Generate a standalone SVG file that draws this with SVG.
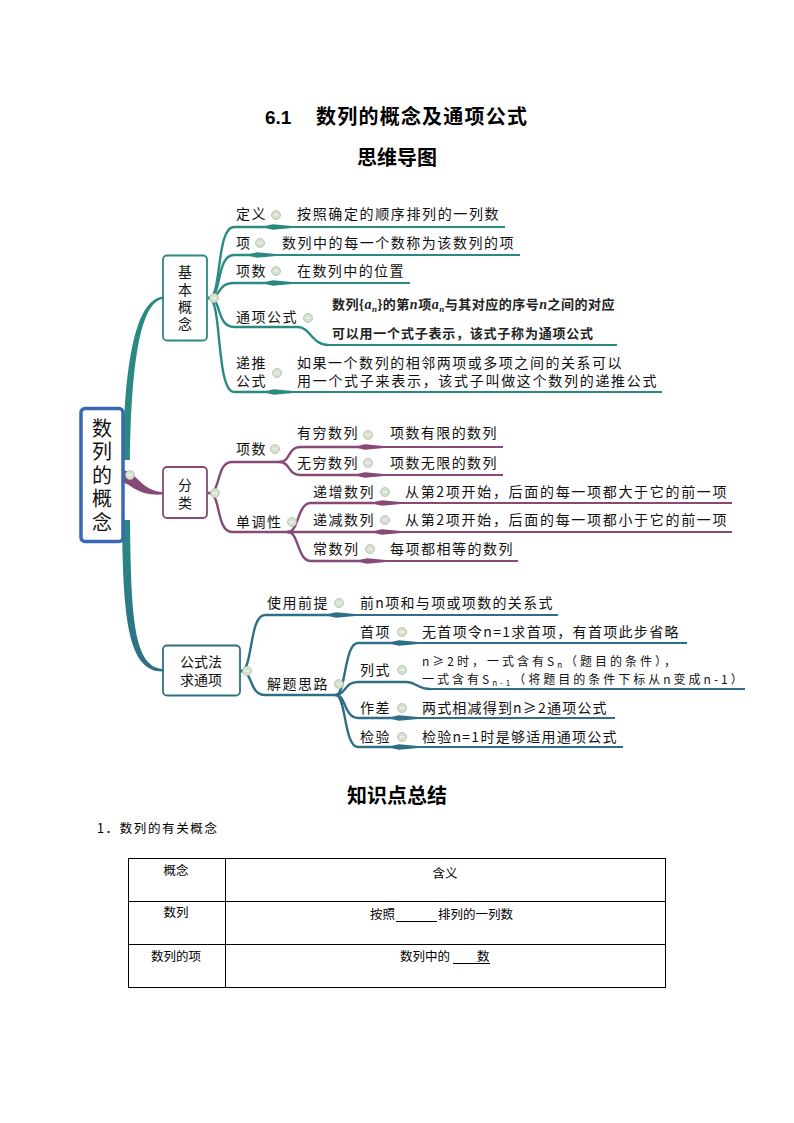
<svg xmlns="http://www.w3.org/2000/svg" xmlns:xlink="http://www.w3.org/1999/xlink" width="794" height="1123" viewBox="0 0 794 1123">
<style>
.h{font-family:"Noto Sans CJK SC","Noto Sans CJK JP",sans-serif;font-weight:bold;font-size:20px;fill:#000}
.t{font-family:"Noto Sans CJK SC","Noto Sans CJK JP",sans-serif;font-size:14px;fill:#111;letter-spacing:1.5px}
.t2{font-family:"Noto Sans CJK SC","Noto Sans CJK JP",sans-serif;font-size:12px;fill:#111;letter-spacing:3px}
.b{font-family:"Noto Sans CJK SC","Noto Sans CJK JP",sans-serif;font-size:13px;font-weight:bold;fill:#222}
.n{font-family:"Noto Sans CJK SC","Noto Sans CJK JP",sans-serif;font-size:14px;fill:#111;text-anchor:middle}
.v{font-family:"Noto Sans CJK SC","Noto Sans CJK JP",sans-serif;font-size:14px;fill:#111;writing-mode:vertical-rl}
.r{font-family:"Noto Sans CJK SC","Noto Sans CJK JP",sans-serif;font-size:20px;fill:#111;writing-mode:vertical-rl;letter-spacing:3.5px}
.s{font-family:"Noto Sans CJK SC","Noto Sans CJK JP",sans-serif;font-size:12.5px;fill:#000}
.T{stroke:#2a8a82;fill:none}
.P{stroke:#874a76;fill:none}
.B{stroke:#2e6f87;fill:none}
.k{stroke-width:2.4;stroke-linecap:round}
.l{stroke-width:1.8}
.wT{fill:#2a8a82}
.wP{fill:#874a76}
.wB{fill:#2e6f87}
.box{fill:#fff;stroke-width:1.8}
.tb{stroke:#000;stroke-width:1;fill:none}
</style>
<defs>
<g id="kn"><circle r="4.5" fill="#d6e0cf" stroke="#b3bdab" stroke-width="0.8"/><line x1="-2.3" x2="2.3" y1="0" y2="0" stroke="#f5f8f2" stroke-width="1.1"/></g>
<linearGradient id="gB" x1="0" y1="0" x2="0" y2="1"><stop offset="0" stop-color="#2a8a82"/><stop offset="1" stop-color="#2e6f87"/></linearGradient>
</defs>
<rect width="794" height="1123" fill="#fff"/>

<g id="title">
<text x="265" y="124" font-family="Liberation Sans" font-weight="bold" font-size="19" fill="#000">6.1</text>
<text x="316" y="124" class="h" textLength="211">数列的概念及通项公式</text>
<text x="397" y="165" class="h" text-anchor="middle">思维导图</text>
</g>

<g id="connectors">
<path d="M123 460 C124 390 130 300 163 296.5 L163 299 C136 302 131 390 130 460 Z" fill="#2a8a82"/>
<path d="M124 470 C138 474 142 491 163 492 L163 494.5 C138 496 134 486 124 483 Z" fill="#874a76"/>
<path d="M122 520 C123 620 128 672 163 671.5 L163 669 C134 667 131 620 130 520 Z" fill="url(#gB)"/>

<path class="T k" d="M209 298 C222 298 216 227 234 227 L266 227"/>
<polygon class="wT" points="266,225.8 273,224.2 292,226.1 292,227.9 273,229.8 266,228.2"/>
<line class="T l" x1="290" y1="227" x2="505" y2="227"/>
<path class="T k" d="M209 298 C222 298 216 255 234 255 L250 255"/>
<polygon class="wT" points="250,253.8 257,252.2 276,254.1 276,255.9 257,257.8 250,256.2"/>
<line class="T l" x1="274" y1="255" x2="520" y2="255"/>
<path class="T k" d="M209 298 C222 298 216 283 234 283 L266 283"/>
<polygon class="wT" points="266,281.8 273,280.2 292,282.1 292,283.9 273,285.8 266,284.2"/>
<line class="T l" x1="290" y1="283" x2="410" y2="283"/>
<path class="T k" d="M209 298 C222 298 216 327 234 327 L298 327 C310 327 312 345 328 345"/>
<line class="T l" x1="326" y1="345" x2="617" y2="345"/>
<path class="T k" d="M209 298 C222 298 216 392 234 392 L267 392"/>
<polygon class="wT" points="267,390.8 274,389.2 293,391.1 293,392.9 274,394.8 267,393.2"/>
<line class="T l" x1="291" y1="392" x2="662" y2="392"/>

<path class="P k" d="M209 493 C221 493 216 462 232 462 L282 462"/>
<path class="P k" d="M209 493 C221 493 216 532 232 532 L290 532"/>
<path class="P k" d="M280 462 C290 462 288 447 300 447 L358 447"/>
<polygon class="wP" points="358,445.8 365,444.2 384,446.1 384,447.9 365,449.8 358,448.2"/>
<line class="P l" x1="382" y1="447" x2="503" y2="447"/>
<path class="P k" d="M280 462 C290 462 288 475 300 475 L358 475"/>
<polygon class="wP" points="358,473.8 365,472.2 384,474.1 384,475.9 365,477.8 358,476.2"/>
<line class="P l" x1="382" y1="475" x2="503" y2="475"/>
<path class="P k" d="M288 532 C299 532 297 503 311 503 L375 503"/>
<polygon class="wP" points="375,501.8 382,500.2 401,502.1 401,503.9 382,505.8 375,504.2"/>
<line class="P l" x1="399" y1="503" x2="732" y2="503"/>
<path class="P k" d="M288 532 L375 532"/>
<polygon class="wP" points="375,530.8 382,529.2 401,531.1 401,532.9 382,534.8 375,533.2"/>
<line class="P l" x1="399" y1="532" x2="732" y2="532"/>
<path class="P k" d="M288 532 C299 532 297 561 311 561 L360 561"/>
<polygon class="wP" points="360,559.8 367,558.2 386,560.1 386,561.9 367,563.8 360,562.2"/>
<line class="P l" x1="384" y1="561" x2="518" y2="561"/>

<path class="B k" d="M241 671 C253 671 249 615 265 615 L329 615"/>
<polygon class="wB" points="329,613.8 336,612.2 355,614.1 355,615.9 336,617.8 329,616.2"/>
<line class="B l" x1="353" y1="615" x2="558" y2="615"/>
<path class="B k" d="M241 671 C253 671 249 695 265 695 L338 695"/>
<path class="B k" d="M336 695 C346 695 344 643 358 643 L392 643"/>
<polygon class="wB" points="392,641.8 399,640.2 418,642.1 418,643.9 399,645.8 392,644.2"/>
<line class="B l" x1="416" y1="643" x2="687" y2="643"/>
<path class="B k" d="M336 695 C346 695 344 682 358 682 L406 682 C416 682 418 689 430 689"/>
<line class="B l" x1="428" y1="689" x2="745" y2="689"/>
<path class="B k" d="M336 695 C346 695 344 718 358 718 L392 718"/>
<polygon class="wB" points="392,716.8 399,715.2 418,717.1 418,718.9 399,720.8 392,719.2"/>
<line class="B l" x1="416" y1="718" x2="615" y2="718"/>
<path class="B k" d="M336 695 C346 695 344 747 358 747 L392 747"/>
<polygon class="wB" points="392,745.8 399,744.2 418,746.1 418,747.9 399,749.8 392,748.2"/>
<line class="B l" x1="416" y1="747" x2="623" y2="747"/>
</g>

<g id="root">
<rect x="81" y="408.5" width="42" height="133" rx="4" fill="#fff" stroke="#3b68b3" stroke-width="3.5"/>
<text class="r" x="102" y="418">数列的概念</text>
<use xlink:href="#kn" x="130" y="475"/>
</g>

<g id="node-jiben">
<rect class="box" x="163" y="255.5" width="44" height="85" rx="4" stroke="#2a8a82"/>
<text class="v" x="185" y="265" letter-spacing="3.3">基本概念</text>
<use xlink:href="#kn" x="214" y="298"/>
</g>
<g id="leaf-dingyi">
<text class="t" x="236" y="219">定义</text><use xlink:href="#kn" x="276" y="215"/>
<text class="t" x="297" y="219" textLength="203">按照确定的顺序排列的一列数</text>
</g>
<g id="leaf-xiang">
<text class="t" x="236" y="248">项</text><use xlink:href="#kn" x="260" y="243"/>
<text class="t" x="282" y="248" textLength="233">数列中的每一个数称为该数列的项</text>
</g>
<g id="leaf-xiangshu">
<text class="t" x="236" y="276">项数</text><use xlink:href="#kn" x="276" y="271"/>
<text class="t" x="297" y="276" textLength="108">在数列中的位置</text>
</g>
<g id="leaf-tongxiang">
<text class="t" x="236" y="322">通项公式</text><use xlink:href="#kn" x="308" y="318"/>
<text class="b" x="332" y="309" letter-spacing="0.5">数列{<tspan font-family="Liberation Serif" font-style="italic" font-size="14">a</tspan><tspan font-family="Liberation Serif" font-style="italic" font-size="9" dy="3">n</tspan><tspan dy="-3">}的第</tspan><tspan font-family="Liberation Serif" font-style="italic" font-size="14">n</tspan>项<tspan font-family="Liberation Serif" font-style="italic" font-size="14">a</tspan><tspan font-family="Liberation Serif" font-style="italic" font-size="9" dy="3">n</tspan><tspan dy="-3">与其对应的序号</tspan><tspan font-family="Liberation Serif" font-style="italic" font-size="14">n</tspan>之间的对应</text>
<text class="b" x="332" y="338" textLength="261">可以用一个式子表示，该式子称为通项公式</text>
</g>
<g id="leaf-ditui">
<text class="t" x="236" y="368">递推</text>
<text class="t" x="236" y="386">公式</text><use xlink:href="#kn" x="277" y="373"/>
<text class="t" x="297" y="368" textLength="326">如果一个数列的相邻两项或多项之间的关系可以</text>
<text class="t" x="297" y="386" textLength="361">用一个式子来表示，该式子叫做这个数列的递推公式</text>
</g>

<g id="node-fenlei">
<rect class="box" x="163" y="467" width="44" height="51" rx="4" stroke="#874a76"/>
<text class="v" x="185" y="478" letter-spacing="4">分类</text>
<use xlink:href="#kn" x="215" y="493"/>
</g>
<g id="leaf-fl-xiangshu">
<text class="t" x="236" y="454">项数</text><use xlink:href="#kn" x="275" y="449"/>
</g>
<g id="leaf-youqiong">
<text class="t" x="297" y="438">有穷数列</text><use xlink:href="#kn" x="368" y="435"/>
<text class="t" x="390" y="438" textLength="108">项数有限的数列</text>
</g>
<g id="leaf-wuqiong">
<text class="t" x="297" y="468">无穷数列</text><use xlink:href="#kn" x="368" y="463"/>
<text class="t" x="390" y="468" textLength="108">项数无限的数列</text>
</g>
<g id="leaf-dandiao">
<text class="t" x="236" y="527">单调性</text><use xlink:href="#kn" x="292" y="522"/>
</g>
<g id="leaf-dizeng">
<text class="t" x="313" y="497">递增数列</text><use xlink:href="#kn" x="385" y="492"/>
<text class="t" x="405" y="497" textLength="323">从第2项开始，后面的每一项都大于它的前一项</text>
</g>
<g id="leaf-dijian">
<text class="t" x="313" y="525">递减数列</text><use xlink:href="#kn" x="385" y="520"/>
<text class="t" x="405" y="525" textLength="323">从第2项开始，后面的每一项都小于它的前一项</text>
</g>
<g id="leaf-changshu">
<text class="t" x="313" y="554">常数列</text><use xlink:href="#kn" x="370" y="549"/>
<text class="t" x="390" y="554" textLength="124">每项都相等的数列</text>
</g>

<g id="node-gongshi">
<rect class="box" x="163" y="645.5" width="77" height="50" rx="4" stroke="#2e6f87"/>
<text class="n" x="201" y="667">公式法</text>
<text class="n" x="201" y="685">求通项</text>
<use xlink:href="#kn" x="247" y="671"/>
</g>
<g id="leaf-qianti">
<text class="t" x="267" y="608">使用前提</text><use xlink:href="#kn" x="339" y="603"/>
<text class="t" x="360" y="608" textLength="194">前n项和与项或项数的关系式</text>
</g>
<g id="leaf-silu">
<text class="t" x="267" y="689">解题思路</text><use xlink:href="#kn" x="339" y="684"/>
</g>
<g id="leaf-shouxiang">
<text class="t" x="360" y="637">首项</text><use xlink:href="#kn" x="402" y="632"/>
<text class="t" x="422" y="637" textLength="258">无首项令n=1求首项，有首项此步省略</text>
</g>
<g id="leaf-lieshi">
<text class="t" x="360" y="675">列式</text><use xlink:href="#kn" x="402" y="670"/>
<text class="t2" x="422" y="666">n≥2时，一式含有S<tspan font-size="8" dy="2">n</tspan><tspan dy="-2">（题目的条件），</tspan></text>
<text class="t2" x="422" y="684">一式含有S<tspan font-size="8" dy="2">n-1</tspan><tspan dy="-2">（将题目的条件下标从n变成n-1）</tspan></text>
</g>
<g id="leaf-zuocha">
<text class="t" x="360" y="713">作差</text><use xlink:href="#kn" x="402" y="708"/>
<text class="t" x="422" y="713" textLength="186">两式相减得到n≥2通项公式</text>
</g>
<g id="leaf-jianyan">
<text class="t" x="360" y="742">检验</text><use xlink:href="#kn" x="402" y="737"/>
<text class="t" x="422" y="742" textLength="196">检验n=1时是够适用通项公式</text>
</g>

<g id="summary">
<text class="h" x="397" y="803" text-anchor="middle">知识点总结</text>
<text class="s" x="97" y="833" font-size="13" textLength="120">1．数列的有关概念</text>
<rect class="tb" x="128.5" y="858.5" width="537" height="129"/>
<line class="tb" x1="225.5" y1="858" x2="225.5" y2="987"/>
<line class="tb" x1="128" y1="901.5" x2="665" y2="901.5"/>
<line class="tb" x1="128" y1="944.5" x2="665" y2="944.5"/>
<text class="s" x="176" y="875" text-anchor="middle">概念</text>
<text class="s" x="445" y="878" text-anchor="middle">含义</text>
<text class="s" x="176" y="917" text-anchor="middle">数列</text>
<text class="s" x="370" y="919">按照</text>
<line class="tb" x1="396" y1="921.5" x2="437" y2="921.5"/>
<text class="s" x="438" y="919">排列的一列数</text>
<text class="s" x="176" y="961" text-anchor="middle">数列的项</text>
<text class="s" x="400" y="961">数列中的</text>
<line class="tb" x1="453" y1="963.5" x2="490" y2="963.5"/>
<text class="s" x="477" y="961">数</text>
</g>
</svg>
